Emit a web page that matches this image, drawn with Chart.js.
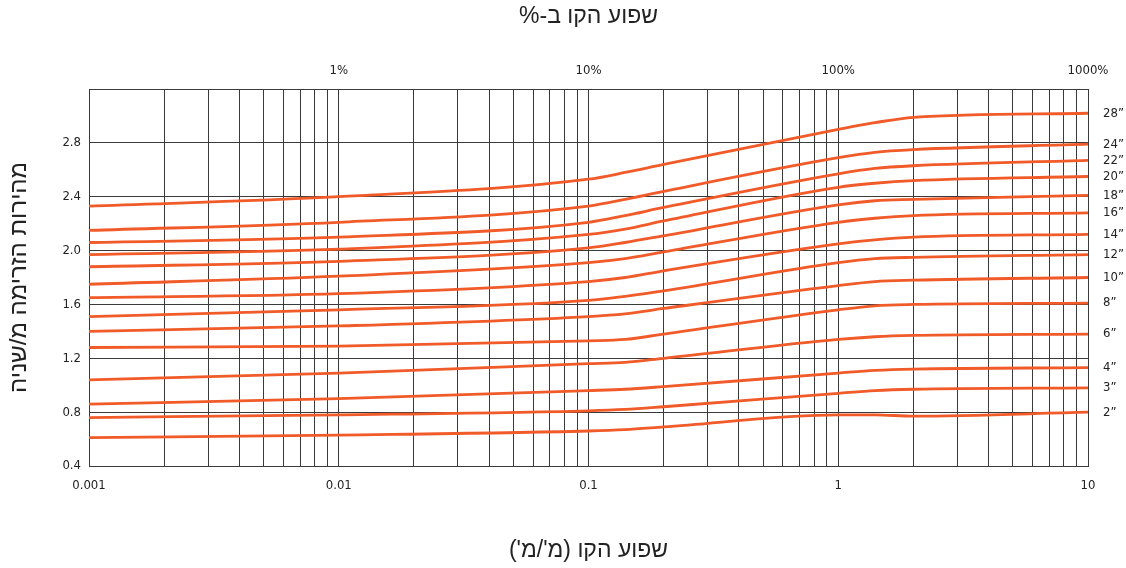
<!DOCTYPE html>
<html>
<head>
<meta charset="utf-8">
<script src="https://cdn.jsdelivr.net/npm/chart.js@4.4.1/dist/chart.umd.min.js"></script>
<style>
html,body{margin:0;padding:0;background:#fff;}
#wrap{width:1126px;height:568px;position:relative;}
</style>
</head>
<body>
<div id="wrap"><canvas id="c"></canvas></div>
<script>
// slope (m/m)
const slopes = [0.001, 0.01, 0.1, 0.14, 0.2, 1, 1.4, 2, 10];
const pipeLabels = ['28”','24”','22”','20”','18”','16”','14”','12”','10”','8”','6”','4”','3”','2”'];
const v28 = [2.33, 2.40, 2.53, 2.58, 2.64, 2.90, 2.95, 2.99, 3.02];
const v24 = [2.15, 2.21, 2.33, 2.38, 2.44, 2.69, 2.73, 2.75, 2.79];
const v22 = [2.06, 2.10, 2.21, 2.26, 2.32, 2.57, 2.61, 2.63, 2.67];
const v20 = [1.97, 2.01, 2.12, 2.16, 2.22, 2.47, 2.50, 2.52, 2.55];
const v18 = [1.88, 1.92, 2.02, 2.06, 2.11, 2.34, 2.37, 2.38, 2.41];
const v16 = [1.75, 1.81, 1.91, 1.94, 1.99, 2.21, 2.24, 2.26, 2.28];
const v14 = [1.65, 1.68, 1.77, 1.80, 1.85, 2.05, 2.08, 2.10, 2.12];
const v12 = [1.51, 1.56, 1.63, 1.66, 1.70, 1.91, 1.94, 1.95, 1.97];
const v10 = [1.40, 1.44, 1.51, 1.53, 1.57, 1.74, 1.77, 1.78, 1.80];
const v8  = [1.28, 1.29, 1.33, 1.34, 1.38, 1.56, 1.59, 1.60, 1.61];
const v6  = [1.04, 1.09, 1.16, 1.17, 1.20, 1.34, 1.36, 1.37, 1.38];
const v4  = [0.86, 0.90, 0.96, 0.97, 0.99, 1.09, 1.11, 1.12, 1.13];
const v3  = [0.76, 0.78, 0.81, 0.82, 0.84, 0.94, 0.96, 0.97, 0.98];
const v2  = [0.61, 0.63, 0.66, 0.67, 0.69, 0.78, 0.78, 0.77, 0.80];
const series = [v28, v24, v22, v20, v18, v16, v14, v12, v10, v8, v6, v4, v3, v2];

const xMajor = [0.001, 0.01, 0.1, 1, 10];
const xBottomLabels = ['0.001', '0.01', '0.1', '1', '10'];
const xTopLabels = ['', '1%', '10%', '100%', '1000%'];
const yTicks = [0.4, 0.8, 1.2, 1.6, 2.0, 2.4, 2.8, 3.2];
const yLabels = ['0.4', '0.8', '1.2', '1.6', '2.0', '2.4', '2.8', ''];

const titleTop = 'שפוע הקו ב-%';
const titleBottom = "שפוע הקו (מ'/מ')";
const titleLeft = 'מהירות הזרימה מ/שניה';
const rtl = s => '\u202B' + s + '\u202C';

const FONT = "'Liberation Sans Narrow', 'DejaVu Sans Condensed', 'Liberation Sans', sans-serif";
const HFONT = "'Liberation Sans', 'DejaVu Sans', sans-serif";
const LINE = '#f15a29';
const GRID = '#3a3a3a';

function logTicks() {
  const t = [];
  for (let e = -3; e < 1; e++) {
    for (let s = 1; s < 10; s++) t.push({ value: +(s * Math.pow(10, e)).toPrecision(3) });
  }
  t.push({ value: 10 });
  return t;
}
function majorIndex(v) {
  for (let i = 0; i < xMajor.length; i++) if (Math.abs(v - xMajor[i]) < xMajor[i] * 1e-6) return i;
  return -1;
}

const datasets = series.map((arr, i) => ({
  label: pipeLabels[i],
  data: slopes.map((x, j) => ({ x: x, y: arr[j] })),
  borderColor: LINE,
  borderWidth: 2.8,
  pointRadius: 0,
  fill: false,
  cubicInterpolationMode: 'monotone',
  xAxisID: 'x',
  yAxisID: 'y'
}));
datasets.push({ label: '_top', data: [], xAxisID: 'x2', yAxisID: 'y', pointRadius: 0, borderWidth: 0 });

const endLabels = {
  id: 'endLabels',
  afterDatasetsDraw(chart) {
    const ctx = chart.ctx;
    const area = chart.chartArea;
    ctx.save();
    ctx.font = '13px ' + FONT;
    ctx.fillStyle = '#222';
    ctx.textAlign = 'left';
    ctx.textBaseline = 'middle';
    for (let i = 0; i < series.length; i++) {
      const meta = chart.getDatasetMeta(i);
      const last = meta.data[meta.data.length - 1];
      ctx.fillText(pipeLabels[i], area.right + 15, last.y);
    }
    ctx.restore();
  }
};

new Chart(document.getElementById('c'), {
  type: 'line',
  data: { datasets: datasets },
  plugins: [endLabels],
  options: {
    responsive: true,
    maintainAspectRatio: false,
    animation: false,
    events: [],
    layout: { padding: { left: 0, right: 38, top: 0, bottom: 0 } },
    plugins: { legend: { display: false }, tooltip: { enabled: false } },
    scales: {
      x: {
        type: 'logarithmic',
        position: 'bottom',
        min: 0.001, max: 10,
        afterBuildTicks: s => { s.ticks = logTicks(); },
        afterFit: s => { s.height = 102; },
        grid: { color: GRID, lineWidth: 1, drawTicks: false },
        border: { color: GRID, width: 1 },
        ticks: {
          autoSkip: false, maxRotation: 0, padding: 12,
          color: '#222', font: { family: FONT, size: 13 },
          callback: v => { const k = majorIndex(v); return k >= 0 ? xBottomLabels[k] : ''; }
        },
        title: {
          display: true, text: rtl(titleBottom),
          color: '#222', font: { family: HFONT, size: 23 },
          padding: { top: 0, bottom: 4 }
        }
      },
      x2: {
        type: 'logarithmic',
        position: 'top',
        min: 0.001, max: 10,
        afterBuildTicks: s => { s.ticks = logTicks(); },
        afterFit: s => { s.height = 89; },
        grid: { display: false, drawTicks: false },
        border: { display: false },
        ticks: {
          autoSkip: false, maxRotation: 0, padding: 11,
          color: '#222', font: { family: FONT, size: 13 },
          callback: v => { const k = majorIndex(v); return k >= 0 ? xTopLabels[k] : ''; }
        },
        title: {
          display: true, text: rtl(titleTop),
          color: '#222', font: { family: HFONT, size: 23 },
          padding: { top: 3, bottom: 0 }
        }
      },
      y: {
        type: 'linear',
        min: 0.4, max: 3.2,
        afterBuildTicks: s => { s.ticks = yTicks.map(v => ({ value: v })); },
        afterFit: s => { s.width = 89; },
        grid: { color: GRID, lineWidth: 1, drawTicks: false },
        border: { color: GRID, width: 1 },
        ticks: {
          padding: 8, color: '#222', font: { family: FONT, size: 13 },
          callback: (v, i) => yLabels[i]
        },
        title: {
          display: true, text: rtl(titleLeft),
          color: '#222', font: { family: HFONT, size: 24 },
          padding: { top: 5, bottom: 0 }
        }
      }
    }
  }
});
</script>
</body>
</html>
